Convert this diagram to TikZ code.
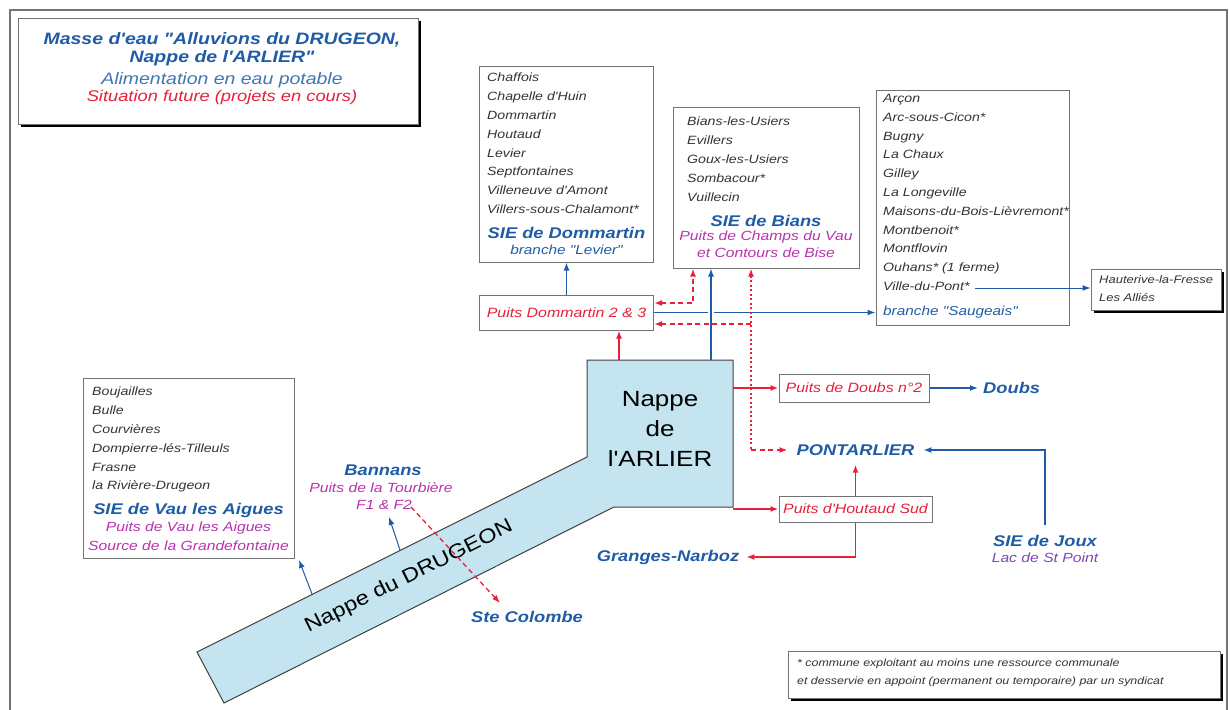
\documentclass[tikz,border=0pt]{standalone}
\usepackage{fontspec}
\setmainfont[FakeStretch=1.18, Ligatures=TeXOff]{Liberation Sans}
\usepackage{tikz}
\usetikzlibrary{arrows.meta,shadows}

\definecolor{eauBleu}{RGB}{32,92,165}
\definecolor{projRouge}{RGB}{232,32,58}
\definecolor{puitsRose}{RGB}{185,50,175}
\definecolor{lacViolet}{RGB}{125,70,185}
\definecolor{nappeFond}{RGB}{196,228,239}
\definecolor{cadreGris}{RGB}{115,115,115}

\newcommand{\fsz}[2]{\fontsize{#1}{#2}\selectfont}

\begin{document}
\begin{tikzpicture}[
        x = 1pt, y = -1pt,
        cadre/.style = {draw=cadreGris, line width=1pt, inner sep=0pt},
        ombre/.style = {drop shadow={shadow xshift=2.5pt, shadow yshift=-2.5pt, fill=black, opacity=1}},
        communes/.style = {anchor=north west, align=left, inner sep=0pt, text=black!80, font=\fsz{12}{18.8}\itshape},
        sie/.style = {text=eauBleu, font=\fsz{15.5}{18}\bfseries\itshape},
        lieu/.style = {text=eauBleu, font=\fsz{15.5}{18}\bfseries\itshape, inner sep=8pt},
        branche/.style = {text=eauBleu, font=\fsz{13}{16}\itshape},
        ressource/.style = {text=puitsRose, font=\fsz{13.3}{16}\itshape},
        puits/.style = {cadre, text=projRouge, font=\fsz{13.5}{16}\itshape},
        bleu/.style = {eauBleu, line width=1.4pt, -{Latex[length=8pt,width=6pt]}},
        rouge/.style = {projRouge, line width=1.8pt, -{Latex[length=8pt,width=6pt]}},
        tirets/.style = {dash pattern=on 5pt off 3.5pt},
        pointille/.style = {dash pattern=on 2pt off 2.5pt}
    ]
        \useasboundingbox (0,0) rectangle (1230,709);
        \draw[cadreGris, line width=1.5pt] (10,715) -- (10,10) -- (1227,10) -- (1227,715);

        % titre
        \node[cadre, ombre, fill=white, minimum width=400pt, minimum height=105pt] (titre) at (218,71.5) {};
        \node[sie, font=\fsz{16.5}{19}\bfseries\itshape] (titre1) at (222,40) {Masse d'eau "Alluvions du DRUGEON,};
        \node[sie, font=\fsz{16.5}{19}\bfseries\itshape] (titre2) at (222,58) {Nappe de l'ARLIER"};
        \node[text=eauBleu!85, font=\fsz{16.5}{19}\itshape] (titre3) at (222,80) {Alimentation en eau potable};
        \node[text=projRouge, font=\fsz{15.5}{18}\itshape] (titre4) at (222,97) {Situation future (projets en cours)};

        % SIE de Dommartin
        \node[cadre, minimum width=174pt, minimum height=196pt] (domBox) at (566.5,164) {};
        \node[communes] (domListe) at (487,73) {Chaffois\\Chapelle d'Huin\\Dommartin\\Houtaud\\Levier\\Septfontaines\\Villeneuve d'Amont\\Villers-sous-Chalamont*};
        \node[sie] (domSie) at (566.5,233) {SIE de Dommartin};
        \node[branche] (domBranche) at (566.5,250) {branche "Levier"};

        % SIE de Bians
        \node[cadre, minimum width=186pt, minimum height=161pt] (biansBox) at (766,187.5) {};
        \node[communes] (biansListe) at (687,117) {Bians-les-Usiers\\Evillers\\Goux-les-Usiers\\Sombacour*\\Vuillecin};
        \node[sie] (biansSie) at (766,221) {SIE de Bians};
        \node[ressource] (biansPuits) at (766,237) {Puits de Champs du Vau};
        \node[ressource] (biansBise) at (766,253) {et Contours de Bise};

        % branche Saugeais
        \node[cadre, minimum width=193pt, minimum height=235pt] (saugBox) at (972.5,207.5) {};
        \node[communes] (saugListe) at (883,94) {Arçon\\Arc-sous-Cicon*\\Bugny\\La Chaux\\Gilley\\La Longeville\\Maisons-du-Bois-Lièvremont*\\Montbenoit*\\Montflovin\\Ouhans* (1 ferme)\\Ville-du-Pont*};
        \node[branche, anchor=west, inner sep=0pt] (saugBranche) at (883,312) {branche "Saugeais"};
        \coordinate (villePont) at (975,288);

        \node[cadre, ombre, fill=white, minimum width=130pt, minimum height=41pt] (hautBox) at (1156,289.5) {};
        \node[communes, font=\fsz{11}{18}\itshape] (hautListe) at (1099,275) {Hauterive-la-Fresse\\Les Alliés};
        \draw[bleu, line width=1pt] (villePont) -- (villePont -| hautBox.west);

        % SIE de Vau les Aigues
        \node[cadre, minimum width=211pt, minimum height=180pt] (vauBox) at (188.5,468) {};
        \node[communes] (vauListe) at (92,387) {Boujailles\\Bulle\\Courvières\\Dompierre-lés-Tilleuls\\Frasne\\la Rivière-Drugeon};
        \node[sie] (vauSie) at (188.5,510) {SIE de Vau les Aigues};
        \node[ressource] (vauPuits) at (188.5,528) {Puits de Vau les Aigues};
        \node[ressource] (vauSource) at (188.5,546) {Source de la Grandefontaine};

        % nappes
        \draw[fill=nappeFond, draw=black!75, line width=1pt] (587,360) -- (733,360) -- (733,507) -- (614,507) -- (224,703) -- (197,652) -- (587,457) -- cycle;
        \node[font=\fsz{22}{30}, align=center] (arlier) at (660,429) {Nappe\\de\\l'ARLIER};
        \node[font=\fsz{20}{24}, rotate=26.57] (drugeon) at (409,577) {Nappe du DRUGEON};
        \coordinate (nDom) at (619,360);
        \coordinate (nBians) at (711,360);
        \coordinate (nDoubs) at (733,388);
        \coordinate (nHout) at (733,509);
        \coordinate (nVau) at (312,594);
        \coordinate (nBannans) at (400,550);
        \coordinate (nColombe) at (411,507);
        \coordinate (finVau) at (299,560);
        \coordinate (finBannans) at (389,517);
        \coordinate (finColombe) at (500,603);

        % puits
        \node[puits, minimum width=174pt, minimum height=35pt] (pDom) at (566.5,312.5) {Puits Dommartin 2 \& 3};
        \node[puits, minimum width=150pt, minimum height=28pt] (pDoubs) at (854,388) {Puits de Doubs n°2};
        \node[puits, minimum width=153pt, minimum height=26pt] (pHout) at (855.5,509) {Puits d'Houtaud Sud};

        \node[lieu, inner sep=1pt] (bannans) at (383,470) {Bannans};
        \node[ressource] (bannansPuits) at (381,488) {Puits de la Tourbière};
        \node[ressource] (bannansF) at (384,505) {F1 \& F2};
        \node[lieu, inner sep=1pt] (colombe) at (527,617) {Ste Colombe};
        \node[lieu, inner sep=9pt] (pont) at (855.5,450) {PONTARLIER};
        \node[lieu, anchor=west, inner sep=5pt] (doubs) at (978,388) {Doubs};
        \node[lieu, inner sep=7pt] (granges) at (668,557) {Granges-Narboz};
        \node[lieu, inner sep=10pt] (jouxSie) at (1045,541) {SIE de Joux};
        \node[ressource, text=lacViolet] (jouxLac) at (1045,558) {Lac de St Point};

        % liaisons
        \draw[rouge] (nDom) -- (nDom |- pDom.south);
        \draw[bleu] (pDom.north) -- (domBox.south);
        \draw[bleu] (pDom.east) -- (pDom.east -| saugBox.west);
        \draw[bleu, preaction={draw=white, line width=6pt, -, shorten <=4pt, shorten >=12pt}] (nBians) -- (nBians |- biansBox.south);
        \coordinate (bifA) at (693,303);
        \coordinate (bifB) at (751,324);
        \coordinate (coinPont) at (751,450);
        \draw[rouge, tirets, {Latex[length=8pt,width=6pt]}-{Latex[length=8pt,width=6pt]}] (bifA -| pDom.east) -- (bifA) -- (bifA |- biansBox.south);
        \draw[rouge, pointille, {Latex[length=8pt,width=6pt]}-] (bifB |- biansBox.south) -- (coinPont);
        \draw[rouge, tirets] (coinPont) -- (pont.west);
        \draw[rouge, tirets] (bifB) -- (bifB -| pDom.east);
        \draw[rouge] (nDoubs) -- (pDoubs.west);
        \draw[bleu] (pDoubs.east) -- (doubs.west);
        \draw[rouge] (nHout) -- (pHout.west);
        \draw[rouge] (pHout.north) -- (pont.south);
        \draw[rouge] (pHout.south) |- (granges.east);
        \draw[bleu] (jouxSie.north) |- (pont.east);
        \draw[bleu, line width=1pt] (nVau) -- (finVau);
        \draw[bleu, line width=1pt] (nBannans) -- (finBannans);
        \draw[rouge, tirets, line width=1.3pt] (nColombe) -- (finColombe);

        % note
        \node[cadre, ombre, fill=white, minimum width=432pt, minimum height=47pt] (note) at (1004,674.5) {};
        \node[communes, font=\fsz{10.5}{18}\itshape] (noteTxt) at (797,659) {* commune exploitant au moins une ressource communale\\et desservie en appoint (permanent ou temporaire) par un syndicat};
    \end{tikzpicture}
\end{document}
